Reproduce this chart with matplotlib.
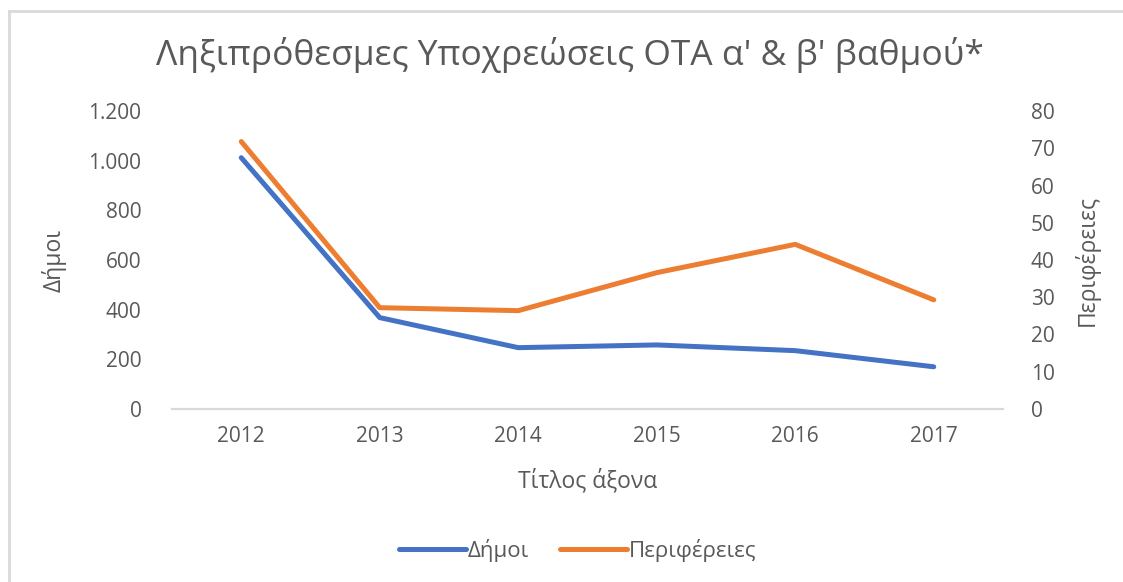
import matplotlib

matplotlib.use("Agg")
import matplotlib.pyplot as plt
from matplotlib.lines import Line2D
from matplotlib.ticker import FuncFormatter

years = ["2012", "2013", "2014", "2015", "2016", "2017"]
dimoi = [1012, 368, 247, 258, 235, 170]
perifereies = [71.8, 27.2, 26.4, 36.6, 44.2, 29.3]

BLUE = "#4472C4"
ORANGE = "#ED7D31"
GRAY_TEXT = "#595959"

plt.rcParams["font.family"] = ["Open Sans", "DejaVu Sans"]

W, H = 1123, 582
fig = plt.figure(figsize=(W / 100, H / 100), dpi=100)

# chart frame: only top and left edges show in the crop
fig.add_artist(Line2D([9 / W, 1], [1 - 11 / H, 1 - 11 / H], transform=fig.transFigure,
                      color="#d9d9d9", linewidth=2))
fig.add_artist(Line2D([9 / W, 9 / W], [0, 1 - 11 / H], transform=fig.transFigure,
                      color="#d9d9d9", linewidth=2))

ax = fig.add_axes([172 / W, 1 - 409 / H, 831 / W, 298 / H])
ax2 = ax.twinx()

x = list(range(len(years)))
ax.plot(x, dimoi, color=BLUE, linewidth=3.6, solid_capstyle="round", solid_joinstyle="round", zorder=3)
ax2.plot(x, perifereies, color=ORANGE, linewidth=3.6, solid_capstyle="round", solid_joinstyle="round", zorder=3)

ax.set_xlim(-0.5, len(years) - 0.5)
ax.set_ylim(0, 1200)
ax2.set_ylim(0, 80)
ax.set_yticks(range(0, 1201, 200))
ax2.set_yticks(range(0, 81, 10))
ax.yaxis.set_major_formatter(FuncFormatter(lambda v, p: f"{int(v):,}".replace(",", ".")))
ax.set_xticks(x)
ax.set_xticklabels(years)

for a in (ax, ax2):
    for side in ("top", "left", "right"):
        a.spines[side].set_visible(False)
    a.spines["bottom"].set_color("#d9d9d9")
    a.spines["bottom"].set_linewidth(1.5)
    a.tick_params(length=0, labelsize=15, colors=GRAY_TEXT)
ax.tick_params(axis="y", pad=22)
ax2.tick_params(axis="y", pad=20)
ax.tick_params(axis="x", pad=12)

ax.set_ylabel("Δήμοι", fontsize=16.5, color=GRAY_TEXT, labelpad=16)
ax2.set_ylabel("Περιφέρειες", fontsize=16.5, color=GRAY_TEXT, rotation=90, labelpad=14)
ax.set_xlabel("Τίτλος άξονα", fontsize=16.5, color=GRAY_TEXT, labelpad=16)

fig.text(570 / W, 1 - 55 / H, "Ληξιπρόθεσμες Υποχρεώσεις ΟΤΑ α' & β' βαθμού*",
         ha="center", va="center", fontsize=25.5, color=GRAY_TEXT)

handles = [Line2D([], [], color=BLUE, linewidth=3.6, solid_capstyle="round"),
           Line2D([], [], color=ORANGE, linewidth=3.6, solid_capstyle="round")]
fig.legend(handles, ["Δήμοι", "Περιφέρειες"], loc="center", bbox_to_anchor=(578 / W, 1 - 550 / H),
           ncol=2, frameon=False, fontsize=16, labelcolor=GRAY_TEXT,
           handlelength=3.0, handletextpad=0.1, columnspacing=1.4)

fig.savefig("out.png", dpi=100)
